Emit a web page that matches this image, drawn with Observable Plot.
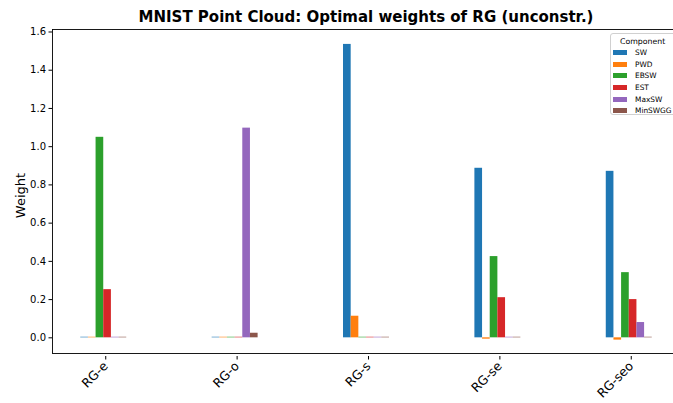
<!DOCTYPE html>
<html>
<head>
<meta charset="utf-8">
<script src="https://cdn.jsdelivr.net/npm/d3@7"></script>
<script src="https://cdn.jsdelivr.net/npm/@observablehq/plot@0.6"></script>
<style>
  html, body { margin: 0; padding: 0; background: #fff; overflow: hidden; }
  #wrap { position: relative; width: 673px; height: 403px; font-family: "DejaVu Sans", sans-serif; }
  #title { position: absolute; left: 0; top: 8px; width: 732px; text-align: center; font-weight: bold; font-size: 15px; line-height: 18px; color: #000; white-space: nowrap; }
  #legend { position: absolute; left: 610px; top: 33px; width: 80px; height: 82px; box-sizing: border-box; border: 1px solid #d0d0d0; border-radius: 3px; background: rgba(255,255,255,0.8); font-size: 7.4px; color: #000; }
  #legend .lt { text-align: left; padding-left: 9px; margin-top: 3px; font-size: 7.8px; line-height: 10px; }
  #legend .row { display: flex; align-items: center; height: 11.6px; padding-left: 2px; }
  #legend .sw { width: 14px; height: 5px; margin-right: 8px; }
</style>
</head>
<body>
<div id="wrap">
  <div id="title">MNIST Point Cloud: Optimal weights of RG (unconstr.)</div>
  <div id="chart"></div>
  <div id="legend"></div>
</div>
<script>
// ---- data ----
const categories = ["RG-e", "RG-o", "RG-s", "RG-se", "RG-seo"];
const components = ["SW", "PWD", "EBSW", "EST", "MaxSW", "MinSWGG"];
const colors = ["#1f77b4", "#ff7f0e", "#2ca02c", "#d62728", "#9467bd", "#8c564b"];
const SW      = [0.003, 0.003, 1.535, 0.887, 0.871];
const PWD     = [0.003, 0.003, 0.113, -0.007, -0.012];
const EBSW    = [1.049, 0.003, 0.003, 0.425, 0.341];
const EST     = [0.252, 0.003, 0.003, 0.210, 0.200];
const MaxSW   = [0.003, 1.097, 0.003, 0.003, 0.080];
const MinSWGG = [0.003, 0.024, 0.003, 0.003, 0.003];
const yTicks = [0, 0.2, 0.4, 0.6, 0.8, 1.0, 1.2, 1.4, 1.6];
const yLabel = "Weight";
const legendTitle = "Component";

const series = [SW, PWD, EBSW, EST, MaxSW, MinSWGG];
const groupWidth = 0.35;
const w = groupWidth / components.length;
const rows = [];
components.forEach((c, j) => {
  categories.forEach((cat, i) => {
    const x1 = i - groupWidth / 2 + j * w;
    rows.push({category: cat, component: c, x1, x2: x1 + w, value: series[j][i]});
  });
});

const plot = Plot.plot({
  width: 673,
  height: 403,
  marginLeft: 52,
  marginRight: -7,
  marginTop: 29,
  marginBottom: 50,
  style: {fontFamily: "DejaVu Sans, sans-serif", background: "#fff", color: "#000"},
  x: {domain: [-0.39, 4.39], ticks: categories.map((d, i) => i), tickFormat: i => categories[i], label: null},
  y: {domain: [-0.082, 1.613], label: null},
  color: {domain: components, range: colors},
  marks: [
    Plot.rectY(rows, {x1: "x1", x2: "x2", y1: 0, y2: "value", fill: "component", inset: 0}),
    Plot.frame({stroke: "#000", strokeWidth: 0.9}),
    Plot.axisY({ticks: yTicks, tickFormat: d3.format(".1f"), tickSize: 3.5, tickPadding: 3, fontSize: 10, label: null, stroke: "#000"}),
    Plot.axisX({ticks: categories.map((d, i) => i), tickFormat: i => categories[i], tickSize: 3.5, tickRotate: -45, textAnchor: "end", fontSize: 12.5, tickPadding: 4, dx: 2, dy: 3, label: null, stroke: "#000"}),
    Plot.text([yLabel], {frameAnchor: "left", dx: -32, dy: 4, rotate: -90, fontSize: 13, text: d => d, textAnchor: "middle", fill: "#000"})
  ]
});
document.getElementById("chart").appendChild(plot);

// legend
const lg = document.getElementById("legend");
const t = document.createElement("div");
t.className = "lt"; t.textContent = legendTitle; lg.appendChild(t);
components.forEach((c, j) => {
  const r = document.createElement("div"); r.className = "row";
  const s = document.createElement("div"); s.className = "sw"; s.style.background = colors[j];
  const l = document.createElement("span"); l.textContent = c;
  r.appendChild(s); r.appendChild(l); lg.appendChild(r);
});
</script>
</body>
</html>
